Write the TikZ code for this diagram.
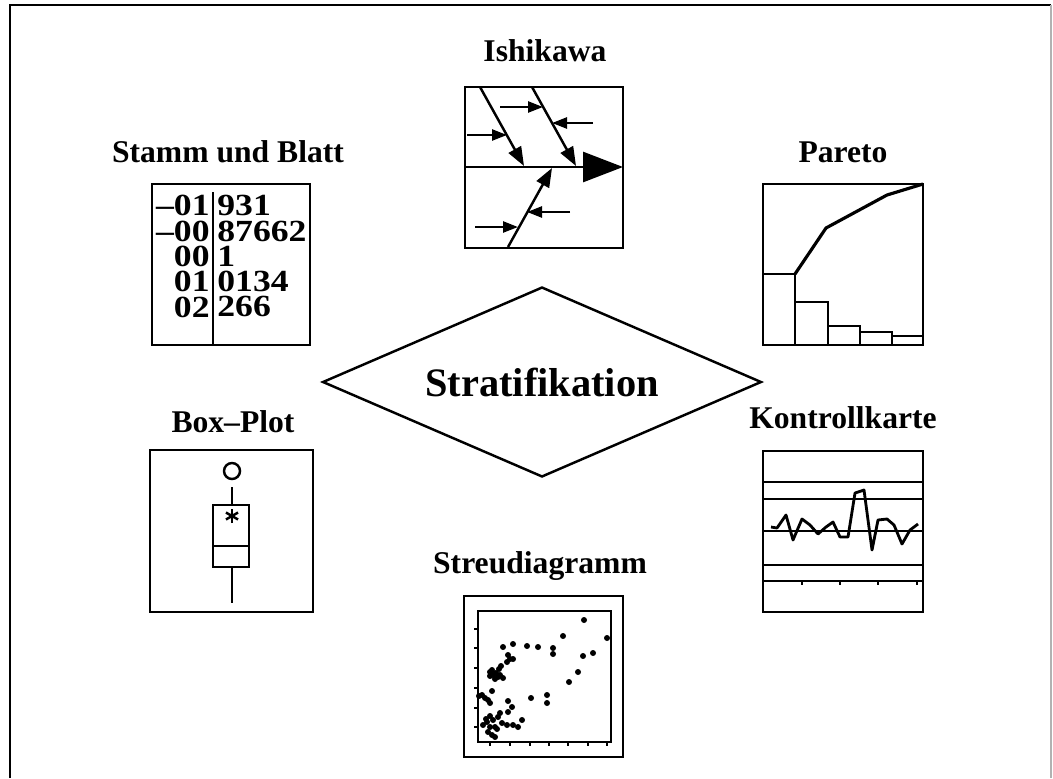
\documentclass[tikz,border=0pt]{standalone}
\usepackage{fontspec}
\setmainfont{Liberation Serif}
\newfontfamily\zifferfont[FakeStretch=1.16]{Liberation Serif Bold}
\usetikzlibrary{arrows.meta,shapes.geometric}

\begin{document}
\begin{tikzpicture}[x=0.02cm,y=-0.02cm,
  titel/.style={font=\bfseries\fontsize{18}{21}\selectfont,anchor=base,inner sep=0pt},
  ziffer/.style={font=\zifferfont\fontsize{17.5}{14.4}\selectfont,inner sep=0pt},
  kasten/.style={line width=1.6pt},
  strich/.style={line width=1.4pt}]
  \useasboundingbox (0,0) rectangle (1053,778);
  % Rahmen
  \draw[line width=1.2pt] (10,778) -- (10,5) -- (1051,5);
  \draw[gray!60,line width=0.8pt] (1051,5) -- (1051,778);

  % Mitte
  \node[draw,line width=1.4pt,shape=diamond,aspect=2.3,minimum width=8.78cm,minimum height=3.8cm,
        inner sep=0pt,font=\bfseries\fontsize{23}{27}\selectfont] (strat) at (542,382) {Stratifikation};

  % Ishikawa
  \node[titel] (ishikawa) at (545,61) {Ishikawa};
  \draw[kasten] (465,87) rectangle (623,248);
  \draw[line width=1.6pt,-{Triangle[length=0.8cm,width=0.6cm]}] (465,167) -- (623,167);
  \draw[strich,-{Triangle[length=0.38cm,width=0.28cm]}] (480,87) -- (524,166);
  \draw[strich,-{Triangle[length=0.38cm,width=0.28cm]}] (532,87) -- (576,166);
  \draw[strich,-{Triangle[length=0.38cm,width=0.28cm]}] (508,247) -- (552,168);
  \draw[strich,-{Triangle[length=0.3cm,width=0.22cm]}] (500,107) -- (543,107);
  \draw[strich,-{Triangle[length=0.3cm,width=0.22cm]}] (593,123) -- (552,123);
  \draw[strich,-{Triangle[length=0.3cm,width=0.22cm]}] (467,135) -- (507,135);
  \draw[strich,-{Triangle[length=0.3cm,width=0.22cm]}] (570,212) -- (527,212);
  \draw[strich,-{Triangle[length=0.3cm,width=0.22cm]}] (475,227) -- (518,227);

  % Stamm und Blatt
  \node[titel] (stammblatt) at (228,162) {Stamm und Blatt};
  \draw[kasten] (152,184) rectangle (310,345);
  \draw[strich] (213,192) -- (213,345);
  \node[ziffer,align=right,anchor=north east] (stamm) at (210,195)
    {–01\\–00\\00\\01\\02};
  \node[ziffer,align=left,anchor=north west] (blatt) at (217,195)
    {931\\87662\\1\\0134\\266};

  % Pareto
  \node[titel] (pareto) at (843,162) {Pareto};
  \draw[kasten] (763,184) rectangle (923,345);
  \draw[strich] (763,274) -- (795,274) -- (795,345);
  \draw[strich] (795,302) -- (828,302) -- (828,345);
  \draw[strich] (828,326) -- (860,326) -- (860,345);
  \draw[strich] (860,332) -- (892,332) -- (892,345);
  \draw[strich] (892,336) -- (923,336);
  \draw[line width=1.8pt] (795,274) -- (826,228) -- (887,195) -- (923,184);

  % Box-Plot
  \node[titel] (boxplot) at (233,432) {Box--Plot};
  \draw[kasten] (150,450) rectangle (313,612);
  \draw[strich] (232,471) circle[radius=8];
  \draw[strich] (232,487) -- (232,505) (213,505) rectangle (249,567)
    (213,546) -- (249,546) (232,567) -- (232,603);
  \foreach \a in {90,30,150}
    \draw[strich] (232,516) ++(\a:7) -- ++(\a+180:14);

  % Kontrollkarte
  \node[titel] (kontrolle) at (843,428) {Kontrollkarte};
  \draw[kasten] (763,451) rectangle (923,612);
  \foreach \y in {482,499,531,565,581}
    \draw[strich] (763,\y) -- (923,\y);
  \foreach \x in {802,840,878,917}
    \draw[strich] (\x,581) -- (\x,585);
  \draw[line width=1.6pt,line join=round] (771,527) -- (777,528) -- (786,515) -- (793,540) -- (802,519)
    -- (810,525) -- (818,534) -- (826,527) -- (833,522) -- (840,537) -- (848,537)
    -- (855,493) -- (864,490) -- (872,550) -- (878,520) -- (887,519) -- (894,525)
    -- (902,544) -- (910,530) -- (918,524);

  % Streudiagramm
  \node[titel] (streu) at (540,573) {Streudiagramm};
  \draw[kasten] (464,596) rectangle (623,757);
  \draw[line width=1.4pt] (478,611) rectangle (611,742);
  \foreach \y in {629,648,668,688,708,727}
    \draw[strich] (474,\y) -- (478,\y);
  \foreach \x in {490,510,530,549,568,588,607}
    \draw[strich] (\x,742) -- (\x,746);
  \foreach \p in {(584,620),(607,638),(563,636),(527,646),(538,647),(513,644),(503,647),
    (553,648),(553,654),(593,653),(583,656),(508,655),(510,659),(513,659),(507,662),
    (501,666),(499,669),(490,672),(493,675),(498,677),(503,678),(490,676),(495,679),
    (492,670),(496,673),(500,675),(578,672),(569,682),(492,691),(482,695),(488,700),
    (490,703),(485,698),(479,696),(547,695),(547,703),(531,698),(508,701),(512,707),
    (508,712),(500,713),(490,716),(487,722),(493,720),(498,717),(502,723),(507,725),
    (513,725),(522,720),(518,727),(483,725),(490,727),(495,727),(488,732),(495,737),
    (492,735),(497,729),(486,719)}
    \fill \p circle[radius=3];
\end{tikzpicture}
\end{document}
